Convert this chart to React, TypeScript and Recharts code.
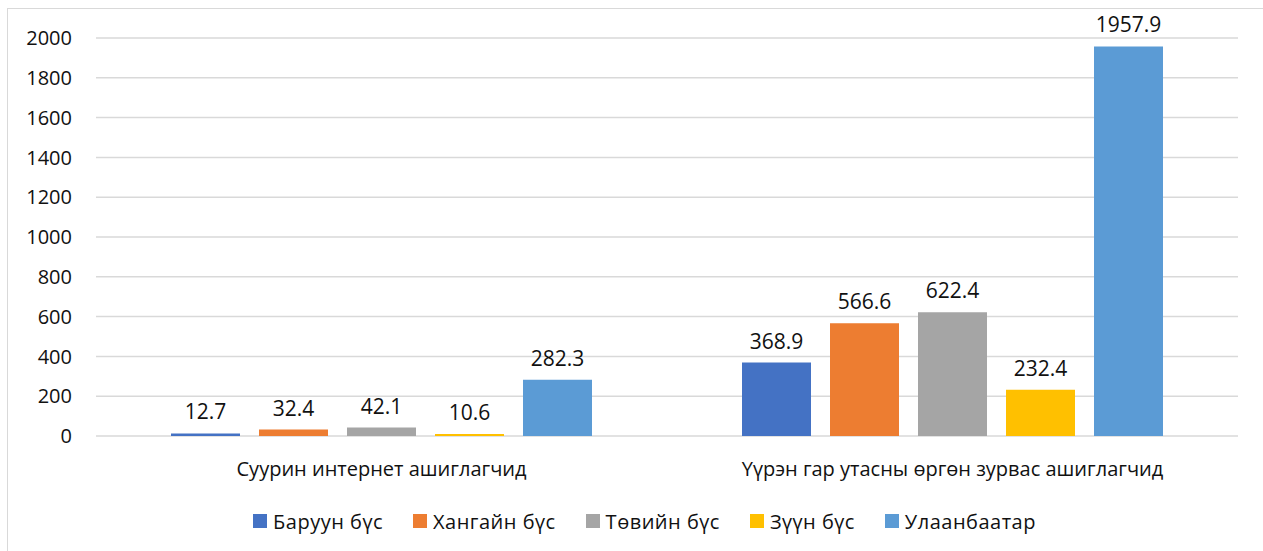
import React from "react";
import { BarChart, Bar, XAxis, YAxis, CartesianGrid, Legend, LabelList } from "recharts";

const categories = ["Суурин интернет ашиглагчид", "Үүрэн гар утасны өргөн зурвас ашиглагчид"];
const regions = ["Баруун бүс", "Хангайн бүс", "Төвийн бүс", "Зүүн бүс", "Улаанбаатар"];
const fixedUsers = [12.7, 32.4, 42.1, 10.6, 282.3];
const mobileUsers = [368.9, 566.6, 622.4, 232.4, 1957.9];
const yTicks = [0, 200, 400, 600, 800, 1000, 1200, 1400, 1600, 1800, 2000];
const COLORS = ["#4472C4", "#ED7D31", "#A5A5A5", "#FFC000", "#5B9BD5"];

const data = categories.map((name, ci) => {
  const row: Record<string, string | number> = { name };
  regions.forEach((r, ri) => {
    row[r] = ci === 0 ? fixedUsers[ri] : mobileUsers[ri];
  });
  return row;
});

const FONT = "'Open Sans', 'Noto Sans', sans-serif";

// recharts 3 sorts legend items by name, put them back in series order
const renderLegend = (props: any) => {
  const items = [...(props.payload || [])].sort(
    (a: any, b: any) => regions.indexOf(a.value) - regions.indexOf(b.value)
  );
  return (
    <div style={{ display: "flex", justifyContent: "center", paddingLeft: 56, fontFamily: FONT, fontSize: 20, color: "#111", letterSpacing: 0.5 }}>
      {items.map((p: any) => (
        <div key={p.value} style={{ display: "flex", alignItems: "center", marginRight: 30 }}>
          <span style={{ width: 14, height: 14, background: p.color, display: "inline-block", marginRight: 6, marginTop: -3 }} />
          <span style={{ lineHeight: "22px" }}>{p.value}</span>
        </div>
      ))}
    </div>
  );
};

const App: React.FC = () => (
  <div style={{ position: "absolute", left: 0, top: 0, width: 1263, height: 551, overflow: "hidden", background: "#fff" }}>
    <div style={{ position: "absolute", left: 7, top: 8, width: 1400, height: 700, border: "1px solid #d9d9d9" }} />
    <div style={{ position: "absolute", left: 0, top: 0 }}>
      <BarChart
        width={1263}
        height={551}
        data={data}
        margin={{ top: 38, right: 25, bottom: 85, left: 0 }}
        barSize={69}
        barGap={19}
      >
        <CartesianGrid vertical={false} stroke="#d9d9d9" strokeWidth={1.5} />
        <XAxis
          dataKey="name"
          axisLine={false}
          tickLine={false}
          tickSize={0}
          tickMargin={26}
          height={30}
          tick={{ fill: "#111", fontSize: 20, fontFamily: FONT }}
        />
        <YAxis
          width={96}
          domain={[0, 2000]}
          ticks={yTicks}
          axisLine={false}
          tickLine={false}
          tickSize={0}
          tickMargin={24}
          tick={{ fill: "#111", fontSize: 20, fontFamily: FONT }}
        />
        <Legend verticalAlign="middle" align="center" layout="horizontal" wrapperStyle={{ top: 511, left: 0, width: 1263 }} content={renderLegend} />
        {regions.map((r, i) => (
          <Bar key={r} dataKey={r} fill={COLORS[i]} isAnimationActive={false}>
            <LabelList dataKey={r} position="top" offset={14} fill="#111" fontSize={21} fontFamily={FONT} />
          </Bar>
        ))}
      </BarChart>
    </div>
  </div>
);

export default App;
